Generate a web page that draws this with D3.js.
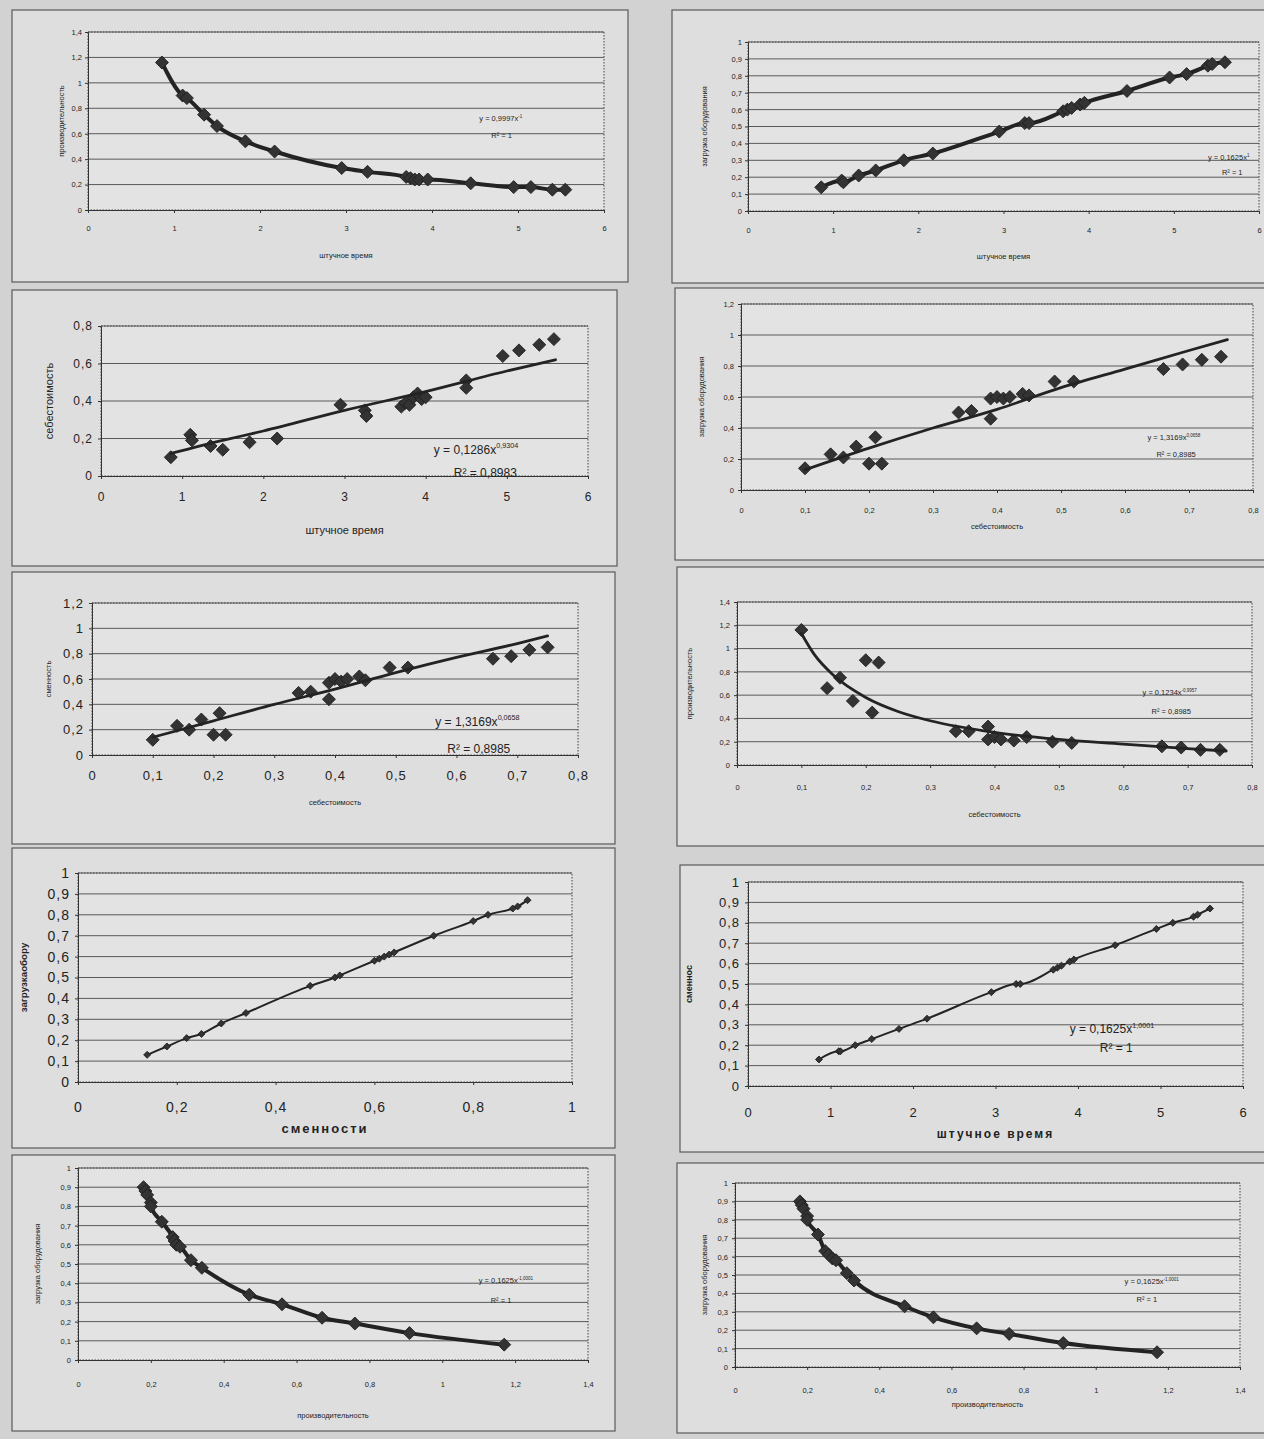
<!DOCTYPE html>
<html>
<head>
<meta charset="utf-8">
<script src="https://cdn.jsdelivr.net/npm/d3@7"></script>
<style>
  body { margin: 0; background: #d2d2d2; }
  svg { display: block; font-family: "Liberation Sans", Arial, sans-serif; }
</style>
</head>
<body>
<svg id="page" width="1264" height="1439"></svg>
<script>
// ---- tick labels ----
const ticks0to6 = [0, 1, 2, 3, 4, 5, 6];
const ticks0to08 = [0, 0.1, 0.2, 0.3, 0.4, 0.5, 0.6, 0.7, 0.8];
const ticks0to1by02 = [0, 0.2, 0.4, 0.6, 0.8, 1];
const ticks0to14 = [0, 0.2, 0.4, 0.6, 0.8, 1, 1.2, 1.4];
const ticks0to12 = [0, 0.2, 0.4, 0.6, 0.8, 1, 1.2];
const ticks0to08by02 = [0, 0.2, 0.4, 0.6, 0.8];
const ticks0to1by01 = [0, 0.1, 0.2, 0.3, 0.4, 0.5, 0.6, 0.7, 0.8, 0.9, 1];

// ---- series ----
// 1: производительность vs штучное время
const p1Time = [0.86, 1.1, 1.15, 1.35, 1.5, 1.83, 2.17, 2.95, 3.25, 3.7, 3.75, 3.8, 3.85, 3.95, 4.45, 4.95, 5.15, 5.4, 5.55];
const p1Prod = [1.16, 0.9, 0.88, 0.75, 0.66, 0.54, 0.46, 0.33, 0.3, 0.26, 0.25, 0.24, 0.24, 0.24, 0.21, 0.18, 0.18, 0.16, 0.16];
// 2: загрузка оборудования vs штучное время
const p2Time = [0.86, 1.1, 1.12, 1.3, 1.5, 1.83, 2.17, 2.95, 3.25, 3.3, 3.7, 3.75, 3.8, 3.9, 3.95, 4.45, 4.95, 5.15, 5.4, 5.45, 5.6];
const p2Load = [0.14, 0.18, 0.17, 0.21, 0.24, 0.3, 0.34, 0.47, 0.52, 0.52, 0.59, 0.6, 0.61, 0.63, 0.64, 0.71, 0.79, 0.81, 0.86, 0.87, 0.88];
// 3: себестоимость vs штучное время
const p3Time = [0.86, 1.1, 1.12, 1.35, 1.5, 1.83, 2.17, 2.95, 3.25, 3.27, 3.7, 3.75, 3.8, 3.85, 3.9, 3.95, 4.0, 4.5, 4.5, 4.95, 5.15, 5.4, 5.58];
const p3Cost = [0.1, 0.22, 0.19, 0.16, 0.14, 0.18, 0.2, 0.38, 0.35, 0.32, 0.37, 0.39, 0.38, 0.42, 0.44, 0.41, 0.42, 0.51, 0.47, 0.64, 0.67, 0.7, 0.73];
const p3TrendX = [0.86, 1.5, 2, 3, 4, 5, 5.6];
const p3TrendY = [0.12, 0.19, 0.24, 0.35, 0.45, 0.56, 0.62];
// 4: загрузка оборудования vs себестоимость
const p4Cost = [0.1, 0.14, 0.16, 0.18, 0.2, 0.21, 0.22, 0.34, 0.36, 0.39, 0.39, 0.4, 0.41, 0.42, 0.44, 0.45, 0.49, 0.52, 0.66, 0.69, 0.72, 0.75];
const p4Load = [0.14, 0.23, 0.21, 0.28, 0.17, 0.34, 0.17, 0.5, 0.51, 0.59, 0.46, 0.6, 0.59, 0.6, 0.62, 0.61, 0.7, 0.7, 0.78, 0.81, 0.84, 0.86];
const p4TrendX = [0.1, 0.2, 0.3, 0.4, 0.5, 0.6, 0.7, 0.76];
const p4TrendY = [0.13, 0.27, 0.4, 0.52, 0.66, 0.78, 0.9, 0.97];
// 5: сменность vs себестоимость
const p5Cost = [0.1, 0.14, 0.16, 0.18, 0.2, 0.21, 0.22, 0.34, 0.36, 0.39, 0.39, 0.4, 0.41, 0.42, 0.44, 0.45, 0.49, 0.52, 0.66, 0.69, 0.72, 0.75];
const p5Shift = [0.12, 0.23, 0.2, 0.28, 0.16, 0.33, 0.16, 0.49, 0.5, 0.57, 0.44, 0.6, 0.58, 0.6, 0.62, 0.59, 0.69, 0.69, 0.76, 0.78, 0.83, 0.85];
const p5TrendX = [0.1, 0.2, 0.3, 0.4, 0.5, 0.6, 0.7, 0.75];
const p5TrendY = [0.14, 0.27, 0.4, 0.52, 0.65, 0.77, 0.88, 0.94];
// 6: производительность vs себестоимость
const p6Cost = [0.1, 0.14, 0.16, 0.18, 0.2, 0.21, 0.22, 0.34, 0.36, 0.39, 0.39, 0.4, 0.41, 0.43, 0.45, 0.49, 0.52, 0.66, 0.69, 0.72, 0.75];
const p6Prod = [1.16, 0.66, 0.75, 0.55, 0.9, 0.45, 0.88, 0.29, 0.29, 0.33, 0.22, 0.24, 0.22, 0.21, 0.24, 0.2, 0.19, 0.16, 0.15, 0.13, 0.13];
const p6TrendX = [0.1, 0.12, 0.15, 0.2, 0.25, 0.3, 0.4, 0.5, 0.6, 0.7, 0.76];
const p6TrendY = [1.13, 0.95, 0.77, 0.58, 0.46, 0.38, 0.28, 0.22, 0.18, 0.14, 0.12];
// 7: загрузка оборудования vs сменность
const p7Shift = [0.14, 0.18, 0.22, 0.25, 0.29, 0.34, 0.47, 0.52, 0.53, 0.6, 0.61, 0.62, 0.63, 0.64, 0.72, 0.8, 0.83, 0.88, 0.89, 0.91];
const p7Load = [0.13, 0.17, 0.21, 0.23, 0.28, 0.33, 0.46, 0.5, 0.51, 0.58, 0.59, 0.6, 0.61, 0.62, 0.7, 0.77, 0.8, 0.83, 0.84, 0.87];
// 8: сменность vs штучное время
const p8Time = [0.86, 1.1, 1.12, 1.3, 1.5, 1.83, 2.17, 2.95, 3.25, 3.3, 3.7, 3.75, 3.8, 3.9, 3.95, 4.45, 4.95, 5.15, 5.4, 5.45, 5.6];
const p8Shift = [0.13, 0.17, 0.17, 0.2, 0.23, 0.28, 0.33, 0.46, 0.5, 0.5, 0.57, 0.58, 0.59, 0.61, 0.62, 0.69, 0.77, 0.8, 0.83, 0.84, 0.87];
// 9, 10: загрузка оборудования vs производительность
const p9Prod = [0.18, 0.185, 0.19, 0.2, 0.2, 0.23, 0.26, 0.265, 0.27, 0.28, 0.31, 0.34, 0.47, 0.56, 0.67, 0.76, 0.91, 1.17];
const p9Load = [0.9, 0.88, 0.86, 0.82, 0.8, 0.72, 0.64, 0.62, 0.6, 0.59, 0.52, 0.48, 0.34, 0.29, 0.22, 0.19, 0.14, 0.08];
const p10Prod = [0.18, 0.185, 0.19, 0.2, 0.2, 0.23, 0.25, 0.26, 0.27, 0.28, 0.31, 0.33, 0.47, 0.55, 0.67, 0.76, 0.91, 1.17];
const p10Load = [0.9, 0.88, 0.86, 0.82, 0.8, 0.72, 0.63, 0.61, 0.59, 0.58, 0.51, 0.47, 0.33, 0.27, 0.21, 0.18, 0.13, 0.08];

// ---- panel layouts ----
const small = { tick: 7.5, title: 7.5, eq: 7.5 };
const panels = [
  { box: [12, 10, 616, 272], plot: [88, 32, 604, 210], xDom: [0, 6], yDom: [0, 1.4], xTicks: ticks0to6, yTicks: ticks0to14,
    xs: p1Time, ys: p1Prod, fit: null, font: small, xLab: 18, yPad: 6, r: 6.5, lw: 4,
    xTitle: "штучное время", xTitleY: 256, yTitle: "производительность", yTitleX: 62,
    eq: { x: 4.55, y: 0.7, a: "y = 0,9997x", b: "-1", r2: "R² = 1", dx: 12, dy: 17 } },
  { box: [672, 10, 600, 273], plot: [748, 42, 1259, 211], xDom: [0, 6], yDom: [0, 1], xTicks: ticks0to6, yTicks: ticks0to1by01,
    xs: p2Time, ys: p2Load, fit: null, font: small, xLab: 19, yPad: 6, r: 6.5, lw: 4,
    xTitle: "штучное время", xTitleY: 257, yTitle: "загрузка оборудования", yTitleX: 705,
    eq: { x: 5.4, y: 0.3, a: "y = 0,1625x", b: "1", r2: "R² = 1", dx: 14, dy: 15 } },
  { box: [12, 290, 605, 276], plot: [101, 326, 588, 476], xDom: [0, 6], yDom: [0, 0.8], xTicks: ticks0to6, yTicks: ticks0to08by02,
    xs: p3Time, ys: p3Cost, fit: [p3TrendX, p3TrendY], font: { tick: 12, title: 11, eq: 12 }, xLab: 21, yPad: 8, r: 6.5, lw: 2.8,
    xTitle: "штучное время", xTitleY: 531, yTitle: "себестоимость", yTitleX: 50,
    eq: { x: 4.1, y: 0.12, a: "y = 0,1286x", b: "0,9304", r2: "R² = 0,8983", dx: 20, dy: 23 } },
  { box: [675, 288, 595, 272], plot: [741, 304, 1253, 490], xDom: [0, 0.8], yDom: [0, 1.2], xTicks: ticks0to08, yTicks: ticks0to12,
    xs: p4Cost, ys: p4Load, fit: [p4TrendX, p4TrendY], font: small, xLab: 20, yPad: 7, r: 6.5, lw: 2.8,
    xTitle: "себестоимость", xTitleY: 527, yTitle: "загрузка оборудования", yTitleX: 702,
    eq: { x: 0.635, y: 0.32, a: "y = 1,3169x", b: "0,0658", r2: "R² = 0,8985", dx: 9, dy: 17 } },
  { box: [12, 572, 603, 272], plot: [92, 603, 578, 755], xDom: [0, 0.8], yDom: [0, 1.2], xTicks: ticks0to08, yTicks: ticks0to12,
    xs: p5Cost, ys: p5Shift, fit: [p5TrendX, p5TrendY], font: { tick: 13, title: 7.5, eq: 12 }, xLab: 20, yPad: 8, r: 6.5, lw: 2.8,
    xTitle: "себестоимость", xTitleY: 803, yTitle: "сменность", yTitleX: 49,
    eq: { x: 0.565, y: 0.23, a: "y = 1,3169x", b: "0,0658", r2: "R² = 0,8985", dx: 12, dy: 27 } },
  { box: [677, 567, 595, 279], plot: [737, 602, 1252, 765], xDom: [0, 0.8], yDom: [0, 1.4], xTicks: ticks0to08, yTicks: ticks0to14,
    xs: p6Cost, ys: p6Prod, fit: [p6TrendX, p6TrendY], font: small, xLab: 22, yPad: 7, r: 6.5, lw: 2.8,
    xTitle: "себестоимость", xTitleY: 815, yTitle: "производительность", yTitleX: 690,
    eq: { x: 0.63, y: 0.6, a: "y = 0,1234x", b: "-0,9957", r2: "R² = 0,8985", dx: 9, dy: 19 } },
  { box: [12, 848, 603, 300], plot: [78, 873, 572, 1082], xDom: [0, 1], yDom: [0, 1], xTicks: ticks0to1by02, yTicks: ticks0to1by01,
    xs: p7Shift, ys: p7Load, fit: null, font: { tick: 14, title: 13, eq: 12 }, xLab: 25, yPad: 8, r: 3.5, lw: 2,
    xTitle: "сменности", xTitleY: 1130, yTitle: "загрузкаобору", yTitleX: 24, bold: true, eq: null },
  { box: [680, 865, 592, 287], plot: [748, 882, 1243, 1086], xDom: [0, 6], yDom: [0, 1], xTicks: ticks0to6, yTicks: ticks0to1by01,
    xs: p8Time, ys: p8Shift, fit: null, font: { tick: 13, title: 12, eq: 12 }, xLab: 26, yPad: 8, r: 3.5, lw: 2,
    xTitle: "штучное время", xTitleY: 1135, yTitle: "сменнос", yTitleX: 690, bold: true,
    eq: { x: 3.9, y: 0.26, a: "y = 0,1625x", b: "1,0001", r2: "R² = 1", dx: 30, dy: 19 } },
  { box: [12, 1155, 603, 276], plot: [78, 1168, 588, 1360], xDom: [0, 1.4], yDom: [0, 1], xTicks: ticks0to14, yTicks: ticks0to1by01,
    xs: p9Prod, ys: p9Load, fit: null, font: small, xLab: 24, yPad: 7, r: 6.5, lw: 4,
    xTitle: "производительность", xTitleY: 1416, yTitle: "загрузка оборудования", yTitleX: 38,
    eq: { x: 1.1, y: 0.4, a: "y = 0,1625x", b: "-1,0001", r2: "R² = 1", dx: 12, dy: 20 } },
  { box: [677, 1163, 595, 270], plot: [735, 1183, 1240, 1367], xDom: [0, 1.4], yDom: [0, 1], xTicks: ticks0to14, yTicks: ticks0to1by01,
    xs: p10Prod, ys: p10Load, fit: null, font: small, xLab: 23, yPad: 7, r: 6.5, lw: 4,
    xTitle: "производительность", xTitleY: 1405, yTitle: "загрузка оборудования", yTitleX: 705,
    eq: { x: 1.08, y: 0.45, a: "y = 0,1625x", b: "-1,0001", r2: "R² = 1", dx: 12, dy: 18 } }
];

const comma = d => d3.format("~g")(d).replace(".", ",");
const svg = d3.select("#page");

svg.append("rect").attr("width", 1264).attr("height", 1439).attr("fill", "#d2d2d2");

panels.forEach(p => {
  const [bx, by, bw, bh] = p.box;
  const [l, t, r, b] = p.plot;
  const g = svg.append("g");
  const ink = "#232323";

  g.append("rect").attr("x", bx).attr("y", by).attr("width", bw).attr("height", bh)
    .attr("fill", "#dedede").attr("stroke", "#5a5a5a").attr("stroke-width", 1.2);

  const x = d3.scaleLinear().domain(p.xDom).range([l, r]);
  const y = d3.scaleLinear().domain(p.yDom).range([b, t]);

  g.append("rect").attr("x", l).attr("y", t).attr("width", r - l).attr("height", b - t)
    .attr("fill", "#e3e3e3").attr("stroke", "#444").attr("stroke-dasharray", "1.5,1.5");

  // gridlines
  g.append("g").selectAll("line").data(p.yTicks.filter(v => v > 0)).join("line")
    .attr("x1", l).attr("x2", r).attr("y1", d => y(d)).attr("y2", d => y(d))
    .attr("stroke", "#4a4a4a").attr("stroke-width", 0.9);

  const fs = p.font.tick, ts = 3;
  const xAxis = d3.axisBottom(x).tickValues(p.xTicks).tickFormat(comma).tickSize(ts)
    .tickPadding(p.xLab - 0.36 * fs - ts);
  const yAxis = d3.axisLeft(y).tickValues(p.yTicks).tickFormat(comma).tickSize(ts).tickPadding(p.yPad - ts);

  const gx = g.append("g").attr("transform", `translate(0,${b})`).call(xAxis);
  const gy = g.append("g").attr("transform", `translate(${l},0)`).call(yAxis);
  [gx, gy].forEach(a => {
    a.selectAll("path, line").attr("stroke", "#333").attr("stroke-width", 1);
    a.selectAll("text").attr("font-size", fs).attr("fill", ink)
      .attr("font-family", "\"Liberation Sans\", Arial, sans-serif")
      .attr("letter-spacing", fs > 11 ? 1 : 0);
  });

  // axis titles
  g.append("text").attr("x", (l + r) / 2).attr("y", p.xTitleY).attr("text-anchor", "middle")
    .attr("dominant-baseline", "middle").attr("font-size", p.font.title).attr("fill", ink)
    .attr("font-weight", p.bold ? "bold" : "normal").attr("letter-spacing", p.bold ? 2 : 0)
    .text(p.xTitle);
  g.append("text").attr("transform", `translate(${p.yTitleX},${(t + b) / 2}) rotate(-90)`)
    .attr("text-anchor", "middle").attr("dominant-baseline", "middle")
    .attr("font-size", p.bold ? p.font.title * 0.75 : p.font.title).attr("fill", ink)
    .attr("font-weight", p.bold ? "bold" : "normal").text(p.yTitle);

  // line: connected through points, or power trendline as read
  const pts = p.xs.map((v, i) => [v, p.ys[i]]);
  const linePts = p.fit ? p.fit[0].map((v, i) => [v, p.fit[1][i]])
                        : pts.slice().sort((a, c) => a[0] - c[0]);
  const line = d3.line().x(d => x(d[0])).y(d => y(d[1])).curve(d3.curveMonotoneX);

  if (!p.fit) {
    g.append("path").datum(linePts).attr("d", line).attr("fill", "none")
      .attr("stroke", ink).attr("stroke-width", p.lw).attr("stroke-linejoin", "round");
  }

  const side = p.r * Math.SQRT2;
  g.append("g").selectAll("path").data(pts).join("path")
    .attr("transform", d => `translate(${x(d[0])},${y(d[1])}) rotate(45)`)
    .attr("d", d3.symbol().type(d3.symbolSquare).size(side * side))
    .attr("fill", "#333").attr("stroke", "#1c1c1c").attr("stroke-width", 0.8);

  if (p.fit) {
    g.append("path").datum(linePts).attr("d", line).attr("fill", "none")
      .attr("stroke", ink).attr("stroke-width", p.lw).attr("stroke-linecap", "round");
  }

  // equation label
  if (p.eq) {
    const ex = x(p.eq.x), ey = y(p.eq.y), efs = p.font.eq;
    const te = g.append("text").attr("x", ex).attr("y", ey).attr("font-size", efs).attr("fill", ink);
    te.append("tspan").text(p.eq.a);
    te.append("tspan").attr("dy", -efs * 0.45).attr("font-size", efs * 0.6).text(p.eq.b);
    g.append("text").attr("x", ex + p.eq.dx).attr("y", ey + p.eq.dy).attr("font-size", efs)
      .attr("fill", ink).text(p.eq.r2);
  }
});
</script>
</body>
</html>
